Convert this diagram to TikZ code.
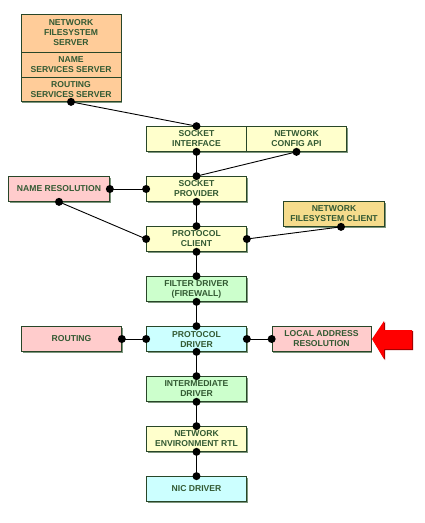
\documentclass[tikz,border=0pt]{standalone}
\usepackage{fontspec}
\setmainfont{Liberation Sans}
\usetikzlibrary{shadows,calc}
\definecolor{txtgreen}{RGB}{51,90,51}
\definecolor{edgegreen}{RGB}{40,70,40}
\definecolor{shadowgreen}{RGB}{125,150,125}
\definecolor{forange}{RGB}{255,204,153}
\definecolor{fyellow}{RGB}{255,255,204}
\definecolor{fpink}{RGB}{255,204,204}
\definecolor{fgreen}{RGB}{204,255,204}
\definecolor{fcyan}{RGB}{204,255,255}
\definecolor{ftan}{RGB}{245,220,140}
\begin{document}
\begin{tikzpicture}[x=1pt,y=-1pt,
  box/.style={draw=edgegreen, line width=0.7pt, minimum width=100pt, minimum height=25pt,
    inner sep=0pt, align=center, text=txtgreen,
    font=\fontsize{8.6}{10}\selectfont\bfseries,
    drop shadow={shadow xshift=1pt, shadow yshift=-1pt, fill=shadowgreen, opacity=1}},
  conn/.style={draw=black, line width=0.9pt},
  dot/.style={fill=black}]
\useasboundingbox (0,0) rectangle (425,523);
% stack of servers
\node[box, fill=forange, minimum height=38pt] (nfsserver) at (71,33) {NETWORK\\FILESYSTEM\\SERVER};
\node[box, fill=forange] (nameserver) at (71,64.5) {NAME\\SERVICES SERVER};
\node[box, fill=forange, minimum height=24.5pt] (routeserver) at (71,89.25) {ROUTING\\SERVICES SERVER};
% main column
\node[box, fill=fyellow] (sockint) at (196.5,139) {SOCKET\\INTERFACE};
\node[box, fill=fyellow] (configapi) at (296.5,139) {NETWORK\\CONFIG API};
\node[box, fill=fyellow] (sockprov) at (196.5,189) {SOCKET\\PROVIDER};
\node[box, fill=fpink, minimum width=101pt] (nameres) at (59,189) {NAME RESOLUTION};
\node[box, fill=ftan, minimum width=101pt] (nfsclient) at (334,214) {NETWORK\\FILESYSTEM CLIENT};
\node[box, fill=fyellow] (protclient) at (196.5,239) {PROTOCOL\\CLIENT};
\node[box, fill=fgreen] (filter) at (196.5,289) {FILTER DRIVER\\(FIREWALL)};
\node[box, fill=fcyan] (protdriver) at (196.5,339) {PROTOCOL\\DRIVER};
\node[box, fill=fpink] (routing) at (71.5,339) {ROUTING};
\node[box, fill=fpink, minimum width=99pt] (lar) at (321.5,339) {LOCAL ADDRESS\\RESOLUTION};
\node[box, fill=fgreen] (intermediate) at (196.5,389) {INTERMEDIATE\\DRIVER};
\node[box, fill=fyellow] (ner) at (196.5,439) {NETWORK\\ENVIRONMENT RTL};
\node[box, fill=fcyan] (nic) at (196.5,489) {NIC DRIVER};
\coordinate (nfsclientdot) at ($(nfsclient.south)+(7,0)$);
% connectors
\draw[conn] (routeserver.south) -- (sockint.north);
\draw[conn] (sockint.south) -- (sockprov.north);
\draw[conn] (configapi.south) -- (sockprov.north);
\draw[conn] (nameres.east) -- (sockprov.west);
\draw[conn] (nameres.south) -- (protclient.west);
\draw[conn] (sockprov.south) -- (protclient.north);
\draw[conn] (protclient.east) -- (nfsclientdot);
\draw[conn] (protclient.south) -- (filter.north);
\draw[conn] (filter.south) -- (protdriver.north);
\draw[conn] (routing.east) -- (protdriver.west);
\draw[conn] (protdriver.east) -- (lar.west);
\draw[conn] (protdriver.south) -- (intermediate.north);
\draw[conn] (intermediate.south) -- (ner.north);
\draw[conn] (ner.south) -- (nic.north);
% dots
\foreach \p in {routeserver.south, sockint.north, sockint.south, configapi.south,
  sockprov.north, sockprov.west, sockprov.south, nameres.east, nameres.south,
  protclient.west, protclient.north, protclient.east, protclient.south, nfsclientdot,
  filter.north, filter.south, protdriver.north, protdriver.west, protdriver.east,
  protdriver.south, routing.east, lar.west, intermediate.north, intermediate.south,
  ner.north, ner.south, nic.north}
  \fill[dot] (\p) circle (4pt);
% red arrow
\fill[red!60!black] (373,340) -- (385,322) -- (385,331) -- (413,331) -- (413,350) -- (385,350) -- (385,360) -- cycle;
\fill[red] (372,339) -- (384,321) -- (384,330) -- (412,330) -- (412,349) -- (384,349) -- (384,359) -- cycle;
\end{tikzpicture}
\end{document}
